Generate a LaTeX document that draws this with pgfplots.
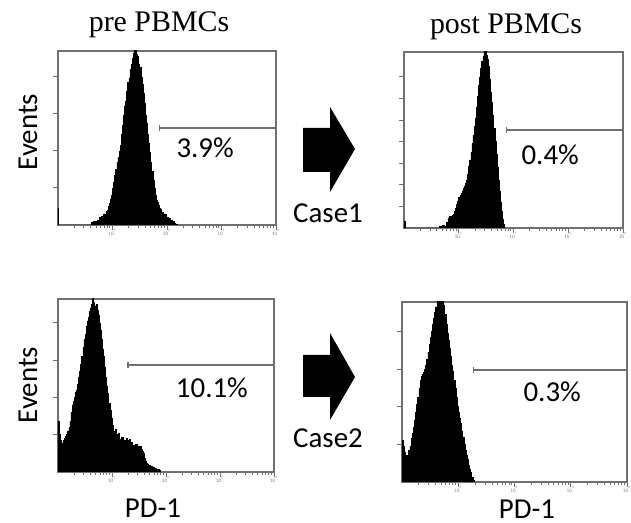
\documentclass[border=0pt]{standalone}
\usepackage{pgfplots}
\pgfplotsset{compat=1.18}
\usetikzlibrary{arrows.meta}
\usepackage{fontspec}
\setmainfont{Carlito}
\newfontfamily\serif{Liberation Serif}

\definecolor{axgray}{HTML}{707070}

\pgfplotsset{
  facs/.style={
    scale only axis,
    anchor=south west,
    xmin=0, xmax=4, ymin=0,
    axis line style={axgray, line width=0.6bp},
    tick style={axgray, line width=0.5bp},
    tick align=outside,
    tick pos=left,
    major tick length=2.5bp,
    minor tick length=1.3bp,
    xtick={1,2,3,4},
    xticklabels={10\textsuperscript{1},10\textsuperscript{2},10\textsuperscript{3},10\textsuperscript{4}},
    x tick label style={font=\fontsize{2.6}{3}\selectfont, text=gray, yshift=1.5bp, inner sep=1bp},
    minor xtick={0.301,0.477,0.602,0.699,0.778,0.845,0.903,0.954,
      1.301,1.477,1.602,1.699,1.778,1.845,1.903,1.954,
      2.301,2.477,2.602,2.699,2.778,2.845,2.903,2.954,
      3.301,3.477,3.602,3.699,3.778,3.845,3.903,3.954},
    yticklabels={},
  },
  hist/.style={black, fill=black, const plot, line width=0.3bp},
  gate/.style={axgray, line width=0.7bp, arrows={Bar[width=3bp]-}},
}
\tikzset{pct/.style={font=\fontsize{14.5}{17}\selectfont}}

\begin{document}
\begin{tikzpicture}[x=0.5bp, y=0.5bp]
\useasboundingbox (0,0) rectangle (631,523);
\coordinate (p1) at (58,298);
\coordinate (p2) at (404,295);
\coordinate (p3) at (58,51);
\coordinate (p4) at (402,41);

% top left: pre PBMCs, case 1
\begin{axis}[facs, at={(p1)}, width=109bp, height=87bp,
  ymax=4.7, ytick={1,2,3,4}]
\addplot[hist] coordinates {
(0,0.45) (0.012,0) (0.6,0) (0.62,0.06) (0.64,0.1) (0.66,0.04) (0.68,0.09)
(0.70,0.05) (0.72,0.14) (0.74,0.1) (0.76,0.2) (0.78,0.15) (0.80,0.24)
(0.82,0.2) (0.84,0.3) (0.86,0.26) (0.88,0.36) (0.90,0.4) (0.92,0.5)
(0.94,0.58) (0.96,0.7) (0.98,0.8) (1.00,0.98) (1.02,1.15) (1.04,1.35)
(1.06,1.5) (1.08,1.7) (1.10,1.82) (1.12,2.0) (1.14,2.15) (1.16,2.45)
(1.18,2.7) (1.20,2.95) (1.22,3.2) (1.24,3.35) (1.26,3.6) (1.28,3.85)
(1.30,3.95) (1.32,4.2) (1.34,4.35) (1.36,4.5) (1.38,4.65) (1.40,4.9)
(1.42,4.75) (1.44,4.6) (1.46,4.55) (1.48,4.35) (1.50,4.25) (1.52,4.0)
(1.54,3.8) (1.56,3.55) (1.58,3.3) (1.60,2.95) (1.62,2.75) (1.64,2.45)
(1.66,2.2) (1.68,1.95) (1.70,1.7) (1.72,1.45) (1.74,1.2) (1.76,0.98)
(1.78,0.8) (1.80,0.68) (1.82,0.6) (1.84,0.52) (1.86,0.45) (1.88,0.42)
(1.90,0.35) (1.92,0.33) (1.94,0.28) (1.96,0.3) (1.98,0.22) (2.00,0.2)
(2.02,0.16) (2.04,0.18) (2.06,0.12) (2.08,0.14) (2.10,0.08) (2.12,0.1)
(2.14,0.05) (2.16,0.03) (2.18,0)
} \closedcycle;
\addplot[gate] coordinates {(1.85,2.62) (4,2.62)};
\node[pct] at (axis cs:2.70,2.08) {3.9\%};
\end{axis}

% top right: post PBMCs, case 1
\begin{axis}[facs, at={(p2)}, width=109.5bp, height=88bp,
  ymax=8.15, ytick={1,2,3,4,5,6,7}]
\addplot[hist] coordinates {
(0,0.3) (0.015,0) (0.62,0) (0.64,0.08) (0.70,0.12) (0.74,0.1) (0.78,0.25)
(0.80,0.45) (0.82,0.55) (0.84,0.5) (0.86,0.55) (0.88,0.6) (0.90,0.62)
(0.92,0.75) (0.94,0.9) (0.96,1.1) (0.98,1.25) (1.00,1.4) (1.02,1.5)
(1.04,1.6) (1.06,1.72) (1.08,1.85) (1.10,1.95) (1.12,2.05) (1.14,2.2)
(1.16,2.5) (1.18,2.85) (1.20,3.15) (1.22,3.5) (1.24,3.9) (1.26,4.3)
(1.28,4.7) (1.30,5.1) (1.32,5.6) (1.34,6.1) (1.36,6.6) (1.38,7.0)
(1.40,7.4) (1.42,7.7) (1.44,7.95) (1.46,8.2) (1.48,8.4) (1.50,8.0)
(1.52,7.8) (1.54,7.5) (1.56,6.9) (1.58,6.3) (1.60,5.8) (1.62,5.2)
(1.64,4.6) (1.66,4.0) (1.68,3.4) (1.70,2.8) (1.72,2.2) (1.74,1.7)
(1.76,1.2) (1.78,0.75) (1.80,0.4) (1.82,0.15) (1.84,0)
} \closedcycle;
\addplot[gate] coordinates {(1.86,4.54) (4,4.54)};
\node[pct] at (axis cs:2.67,3.38) {0.4\%};
\end{axis}

% bottom left: pre PBMCs, case 2
\begin{axis}[facs, at={(p3)}, width=108bp, height=86.5bp,
  ymax=4.64, ytick={1,2,3,4}]
\addplot[hist] coordinates {
(0,1.35) (0.02,1.0) (0.04,0.85) (0.06,0.72) (0.08,0.78) (0.10,0.85)
(0.12,0.9) (0.14,0.95) (0.16,1.0) (0.18,1.1) (0.20,1.2) (0.22,1.35)
(0.24,1.6) (0.26,1.8) (0.28,1.9) (0.30,2.0) (0.32,2.15) (0.34,2.2)
(0.36,2.35) (0.38,2.55) (0.40,2.7) (0.42,2.9) (0.44,3.1) (0.46,3.35)
(0.48,3.55) (0.50,3.7) (0.52,3.9) (0.54,4.05) (0.56,4.15) (0.58,4.3)
(0.60,4.4) (0.62,4.5) (0.64,4.7) (0.66,4.55) (0.68,4.45) (0.70,4.5)
(0.72,4.35) (0.74,4.2) (0.76,4.0) (0.78,3.8) (0.80,3.55) (0.82,3.3)
(0.84,3.1) (0.86,2.8) (0.88,2.55) (0.90,2.3) (0.92,2.1) (0.94,1.85)
(0.96,1.65) (0.98,1.45) (1.00,1.25) (1.02,1.1) (1.04,1.05) (1.06,1.15)
(1.08,1.0) (1.10,0.95) (1.12,1.05) (1.14,0.88) (1.16,0.85) (1.18,0.92)
(1.20,0.8) (1.22,0.85) (1.24,0.82) (1.26,0.9) (1.28,0.78) (1.30,0.85)
(1.32,0.88) (1.34,0.75) (1.36,0.8) (1.38,0.7) (1.40,0.72) (1.42,0.68)
(1.44,0.74) (1.46,0.66) (1.48,0.7) (1.50,0.65) (1.52,0.69) (1.54,0.6)
(1.56,0.55) (1.58,0.5) (1.60,0.38) (1.62,0.3) (1.64,0.24) (1.66,0.2)
(1.68,0.18) (1.70,0.16) (1.72,0.15) (1.74,0.13) (1.76,0.12) (1.78,0.1)
(1.80,0.1) (1.82,0.08) (1.84,0.07) (1.86,0.06) (1.88,0.04) (1.90,0)
} \closedcycle;
\addplot[gate] coordinates {(1.28,2.87) (4,2.87)};
\node[pct] at (axis cs:2.85,2.25) {10.1\%};
\end{axis}

% bottom right: post PBMCs, case 2
\begin{axis}[facs, at={(p4)}, width=112.5bp, height=90bp,
  ymax=4.78, ytick={1,2,3,4}]
\addplot[hist] coordinates {
(0,1.1) (0.02,0.95) (0.04,0.78) (0.06,0.7) (0.08,0.66) (0.10,0.72)
(0.12,0.85) (0.14,0.95) (0.16,1.15) (0.18,1.3) (0.20,1.45) (0.22,1.65)
(0.24,1.85) (0.26,2.05) (0.28,2.25) (0.30,2.5) (0.32,2.7) (0.34,2.8)
(0.36,2.85) (0.38,2.9) (0.40,3.0) (0.42,3.1) (0.44,3.25) (0.46,3.45)
(0.48,3.65) (0.50,3.85) (0.52,4.0) (0.54,4.2) (0.56,4.35) (0.58,4.5)
(0.60,4.65) (0.62,4.9) (0.64,5.0) (0.66,4.85) (0.68,5.0) (0.70,4.9)
(0.72,4.85) (0.74,4.7) (0.76,4.45) (0.78,4.2) (0.80,3.95) (0.82,3.75)
(0.84,3.55) (0.86,3.35) (0.88,3.1) (0.90,2.95) (0.92,2.7) (0.94,2.5)
(0.96,2.25) (0.98,2.0) (1.00,1.85) (1.02,1.7) (1.04,1.55) (1.06,1.35)
(1.08,1.2) (1.10,1.0) (1.12,0.85) (1.14,0.72) (1.16,0.6) (1.18,0.45)
(1.20,0.35) (1.22,0.25) (1.24,0.12) (1.26,0.04) (1.28,0)
} \closedcycle;
\addplot[gate] coordinates {(1.26,2.97) (4,2.97)};
\node[pct] at (axis cs:2.67,2.39) {0.3\%};
\end{axis}

% titles, axis names, arrows
\node[anchor=base, font=\serif\fontsize{15}{18}\selectfont] at (159,491) {pre PBMCs};
\node[anchor=base, font=\serif\fontsize{15}{18}\selectfont] at (506,489) {post PBMCs};
\node[rotate=90, font=\fontsize{14.5}{17}\selectfont] at (28,391) {Events};
\node[rotate=90, font=\fontsize{14.5}{17}\selectfont] at (28,138) {Events};
\node[anchor=base, font=\fontsize{14.5}{17}\selectfont, inner sep=0pt] at (153,5) {PD-1};
\node[anchor=base, font=\fontsize{14.5}{17}\selectfont, inner sep=0pt] at (527,4) {PD-1};
\fill[black] (303,395) -- (330,395) -- (330,416) -- (355,374) -- (330,331)
  -- (330,351) -- (303,351) -- cycle;
\fill[black] (303,168) -- (330,168) -- (330,190) -- (355,146) -- (330,103)
  -- (330,126) -- (303,126) -- cycle;
\node[anchor=base, font=\fontsize{14.5}{17}\selectfont] at (328,300) {Case1};
\node[anchor=base, font=\fontsize{14.5}{17}\selectfont] at (328,75) {Case2};
\end{tikzpicture}
\end{document}
